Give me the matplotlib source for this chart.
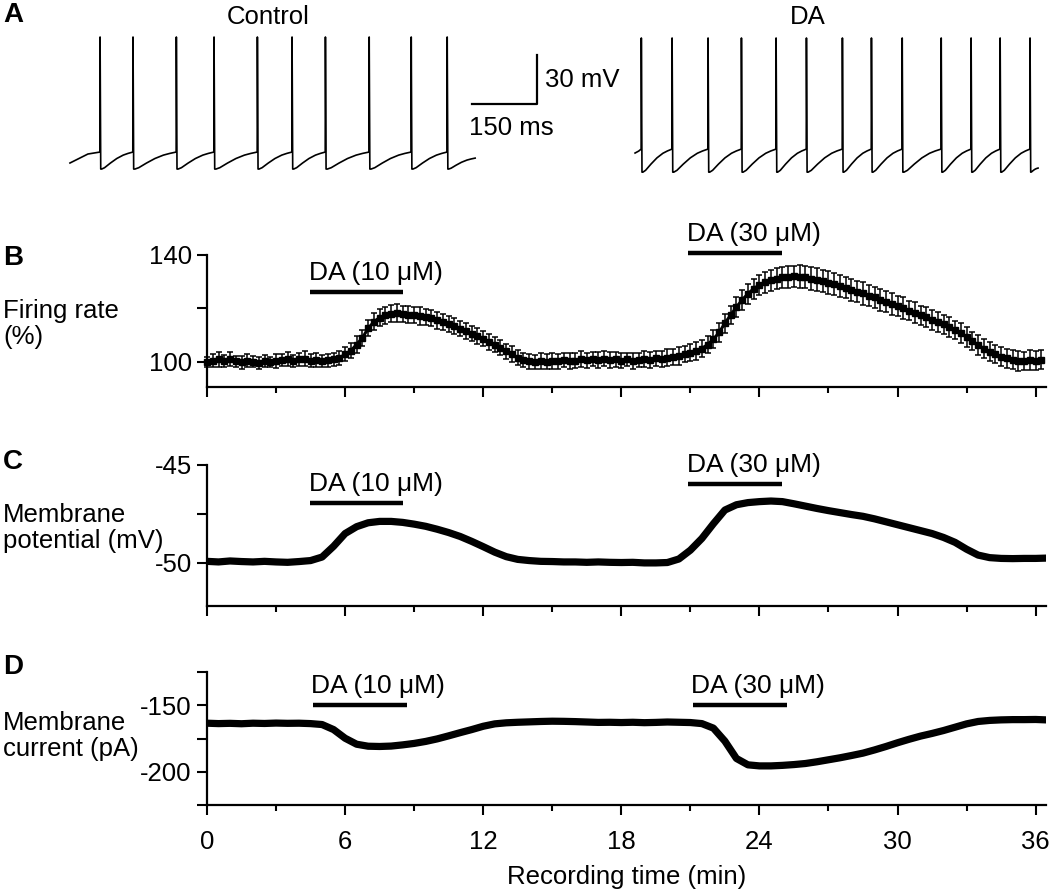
import numpy as np
import matplotlib
matplotlib.use('Agg')
import matplotlib.pyplot as plt

plt.rcParams['font.family'] = ['Liberation Sans', 'DejaVu Sans']
plt.rcParams['font.size'] = 18.5

# ---- panel A: spike times (ms from start of each sweep)
ctrl_spikes = [69, 145, 245, 332, 432, 512, 589, 690, 787, 870]
ctrl_len = 935
da_spikes = [14, 85, 168, 245, 325, 395, 478, 545, 616, 706, 775, 842, 911]
da_len = 930

# ---- panel B: firing rate (%), mean and SEM every 0.25 min
t_rate = np.arange(146) * 0.25
rate = [100.0, 100.5, 101.0, 100.3, 101.2, 100.2, 99.8, 100.5,
        100.0, 99.6, 100.3, 99.9, 100.2, 100.6, 101.0, 100.4,
        100.9, 101.2, 100.5, 100.8, 100.2, 100.6, 100.9, 101.5,
        102.8, 104.2, 106.5, 109.0, 112.5, 115.0, 116.6, 117.4,
        118.0, 118.2, 117.9, 117.6, 117.5, 117.2, 116.8, 116.3,
        115.6, 115.0, 114.2, 113.3, 112.4, 111.5, 110.6, 109.7,
        108.7, 107.6, 106.5, 105.3, 104.0, 102.8, 101.6, 100.7,
        100.2, 100.0, 100.3, 100.1, 100.4, 100.2, 100.6, 100.3,
        100.5, 100.9, 100.6, 101.0, 100.7, 101.2, 100.8, 101.0,
        100.5, 100.9, 100.3, 100.8, 101.1, 100.7, 101.3, 101.0,
        101.6, 101.9, 102.3, 102.8, 103.5, 104.2, 105.0, 106.5,
        108.5, 111.0, 114.5, 117.5, 120.5, 123.2, 125.5, 127.4,
        128.8, 129.8, 130.6, 131.2, 131.6, 131.8, 132.0, 131.9,
        131.6, 131.2, 130.8, 130.3, 129.7, 129.1, 128.5, 127.8,
        127.0, 126.3, 125.6, 124.8, 124.1, 123.3, 122.5, 121.7,
        120.9, 120.1, 119.2, 118.4, 117.5, 116.7, 115.8, 114.9,
        114.0, 113.0, 111.9, 110.7, 109.3, 107.8, 106.3, 105.0,
        103.8, 102.8, 102.0, 101.3, 100.8, 100.4, 100.3, 100.6,
        100.5, 100.8]
rate_sem = [2.0, 2.4, 2.8, 2.2, 2.6, 2.0, 2.5, 2.3,
            2.1, 2.4, 2.2, 2.0, 2.6, 2.3, 2.7, 2.2,
            2.5, 2.8, 2.3, 2.6, 2.2, 2.4, 2.3, 2.5,
            2.6, 2.8, 3.0, 3.1, 3.0, 3.2, 3.1, 3.3,
            3.2, 3.4, 3.1, 3.2, 3.0, 3.3, 3.1, 3.0,
            3.2, 2.9, 3.1, 3.0, 2.8, 3.0, 2.9, 3.1,
            2.8, 3.0, 2.7, 2.9, 2.8, 3.0, 2.9, 2.7,
            2.8, 2.6, 2.9, 2.7, 3.0, 2.8, 2.6, 2.9,
            2.7, 3.0, 2.8, 2.6, 2.9, 2.7, 3.0, 2.8,
            2.9, 2.6, 3.0, 2.7, 2.9, 3.1, 2.8, 3.0,
            3.2, 2.9, 3.3, 3.0, 3.1, 3.4, 3.2, 3.3,
            3.4, 3.5, 3.6, 3.5, 3.7, 3.6, 3.8, 3.7,
            3.8, 4.0, 3.9, 4.1, 4.0, 4.2, 4.0, 4.3,
            4.1, 4.4, 4.2, 4.0, 4.3, 4.1, 4.2, 4.0,
            4.1, 3.9, 4.2, 4.0, 3.8, 4.1, 3.9, 4.0,
            3.8, 4.0, 3.7, 3.9, 3.6, 3.8, 3.7, 3.9,
            3.6, 3.8, 3.5, 3.7, 3.6, 3.4, 3.7, 3.5,
            3.6, 3.4, 3.7, 3.5, 3.6, 3.8, 3.5, 3.7,
            3.4, 3.6]

# ---- panels C, D: every 0.5 min, last point at 36.3 min
t_trace = np.append(np.arange(73) * 0.5, 36.3)
vm = [-49.92, -49.95, -49.90, -49.93, -49.95, -49.92, -49.95, -49.97,
      -49.93, -49.88, -49.70, -49.15, -48.50, -48.15, -47.95, -47.88,
      -47.88, -47.93, -48.02, -48.13, -48.28, -48.45, -48.65, -48.90,
      -49.17, -49.45, -49.68, -49.82, -49.88, -49.92, -49.93, -49.95,
      -49.95, -49.97, -49.95, -49.97, -49.98, -49.97, -50.00, -50.00,
      -49.98, -49.80, -49.35, -48.75, -48.00, -47.30, -47.03, -46.92,
      -46.87, -46.84, -46.87, -46.98, -47.10, -47.22, -47.33, -47.43,
      -47.53, -47.62, -47.75, -47.90, -48.05, -48.20, -48.35, -48.50,
      -48.70, -48.95, -49.30, -49.60, -49.73, -49.77, -49.78, -49.77,
      -49.77, -49.76]
im = [-163.5, -163.8, -163.6, -163.9, -163.5, -163.7, -163.4, -163.6,
      -163.5, -163.8, -164.5, -168.3, -174.8, -179.3, -180.8, -181.0,
      -180.7, -179.8, -178.7, -177.2, -175.3, -173.0, -170.6, -168.3,
      -165.8, -164.0, -163.2, -162.8, -162.5, -162.2, -162.0, -162.1,
      -162.3, -162.6, -162.9, -162.8, -163.0, -162.8, -163.1, -162.9,
      -162.6, -162.8, -163.0, -163.8, -167.2, -177.0, -190.0, -194.8,
      -195.6, -195.6, -195.2, -194.6, -193.8, -192.5, -191.0, -189.5,
      -187.8, -186.0, -183.6, -181.0, -178.2, -175.6, -173.2, -171.2,
      -169.0, -166.5, -164.0, -162.2, -161.4, -161.0, -160.8, -160.8,
      -160.7, -160.9]

# drug application windows (min) per panel
drug_b = [(4.48, 8.52, 'DA (10 μM)'), (20.9, 25.0, 'DA (30 μM)')]
drug_c = [(4.48, 8.52, 'DA (10 μM)'), (20.9, 24.96, 'DA (30 μM)')]
drug_d = [(4.6, 8.7, 'DA (10 μM)'), (21.1, 25.2, 'DA (30 μM)')]

W, H = 1050, 891
fig = plt.figure(figsize=(W / 100, H / 100), dpi=100)


def spike_trace(spikes, length, v_start, v_end, thr, peak, trough):
    tf = np.array([0.03, 0.12, 0.3, 0.5, 0.7, 0.85, 1.0])
    vf = np.array([0.0, 0.08, 0.35, 0.62, 0.82, 0.92, 1.0])
    t = [0.0, spikes[0] * 0.6, spikes[0]]
    v = [v_start, thr - 1.2, thr]
    for i, s in enumerate(spikes):
        t += [s + 0.5, s + 2.0]
        v += [peak, trough]
        a = s + 2.0
        if i + 1 < len(spikes):
            b = spikes[i + 1]
            t += list(a + tf * (b - a))
            v += list(trough + vf * (thr - trough))
        else:
            t += list(a + tf * (length - a))
            v += list(trough + vf * (v_end - trough))
    return np.array(t), np.array(v)


# ---- A
axA = fig.add_axes([60 / W, 1 - 180 / H, 985 / W, 150 / H])
axA.set_xlim(0, 2273)
axA.set_ylim(-72.5, 19.3)
axA.axis('off')
t, v = spike_trace(ctrl_spikes, ctrl_len, -62.1, -59.1, -55.4, 15.0, -65.8)
axA.plot(t + 23, v, color='black', lw=1.2)
t, v = spike_trace(da_spikes, da_len, -56.0, -65.2, -53.6, 14.4, -67.7)
axA.plot(t + 1327, v, color='black', lw=1.2)
# scale bar 150 ms / 30 mV
axA.plot([951, 1101, 1101], [-26, -26, 4], color='black', lw=1.6)
axA.text(1120, -11.3, '30 mV', ha='left', va='center')
axA.text(943, -40.7, '150 ms', ha='left', va='center')
fig.text(268 / W, 1 - 17 / H, 'Control', ha='center', va='center')
fig.text(808 / W, 1 - 17 / H, 'DA', ha='center', va='center')


def style(ax, show_x=False):
    for s in ['top', 'right']:
        ax.spines[s].set_visible(False)
    for s in ['left', 'bottom']:
        ax.spines[s].set_linewidth(1.6)
    ax.set_xlim(0, 36.45)
    ax.set_xticks(np.arange(0, 37, 6))
    ax.set_xticks(np.arange(3, 36, 6), minor=True)
    ax.tick_params(axis='x', which='major', length=7, width=1.5, pad=11)
    ax.tick_params(axis='x', which='minor', length=4, width=1.5)
    ax.tick_params(axis='y', which='major', length=7, width=1.5, pad=4)
    if not show_x:
        ax.set_xticklabels([])


def drug_bars(ax, drugs, ys):
    for (x0, x1, lab), y in zip(drugs, ys):
        ax.plot([x0, x1], [y, y], color='black', lw=3.2,
                solid_capstyle='butt', clip_on=False)
        ax.annotate(lab, xy=(x0, y), xytext=(-1, 5), textcoords='offset points',
                    ha='left', va='bottom', annotation_clip=False, fontsize=19)


# ---- B
axB = fig.add_axes([207 / W, 1 - 387 / H, 839 / W, 132 / H])
axB.errorbar(t_rate, rate, yerr=rate_sem, fmt='s-', color='black', ms=4.5,
             lw=2.2, elinewidth=1.1, capsize=2.4, capthick=1.1, ecolor='black',
             clip_on=False)
axB.set_ylim(90.6, 140)
axB.set_yticks([100, 120, 140])
axB.set_yticklabels(['100', '', '140'])
style(axB)
drug_bars(axB, drug_b, [126.3, 140.6])

# ---- C
axC = fig.add_axes([207 / W, 1 - 606 / H, 839 / W, 141 / H])
axC.plot(t_trace, vm, color='black', lw=5.2, solid_joinstyle='round')
axC.set_ylim(-52.2, -45)
axC.set_yticks([-50, -47.5, -45])
axC.set_yticklabels(['-50', '', '-45'])
style(axC)
drug_bars(axC, drug_c, [-46.95, -45.97])

# ---- D
axD = fig.add_axes([207 / W, 1 - 805 / H, 839 / W, 133 / H])
axD.plot(t_trace, im, color='black', lw=5.2, solid_joinstyle='round')
axD.set_ylim(-225, -125)
axD.set_yticks([-225, -200, -175, -150, -125])
axD.set_yticklabels(['', '-200', '', '-150', ''])
style(axD, show_x=True)
axD.set_xlabel('Recording time (min)', labelpad=8)
drug_bars(axD, drug_d, [-149.5, -150])

# panel letters and y labels
for lab, y in [('A', 15), ('B', 258), ('C', 462), ('D', 667)]:
    fig.text(3 / W, 1 - y / H, lab, ha='left', va='center',
             fontweight='bold', fontsize=20)
for lab, y in [('Firing rate\n(%)', 324), ('Membrane\npotential (mV)', 528),
               ('Membrane\ncurrent (pA)', 736)]:
    fig.text(3 / W, 1 - y / H, lab, ha='left', va='center', linespacing=1.1)

fig.savefig('out.png', dpi=100)
